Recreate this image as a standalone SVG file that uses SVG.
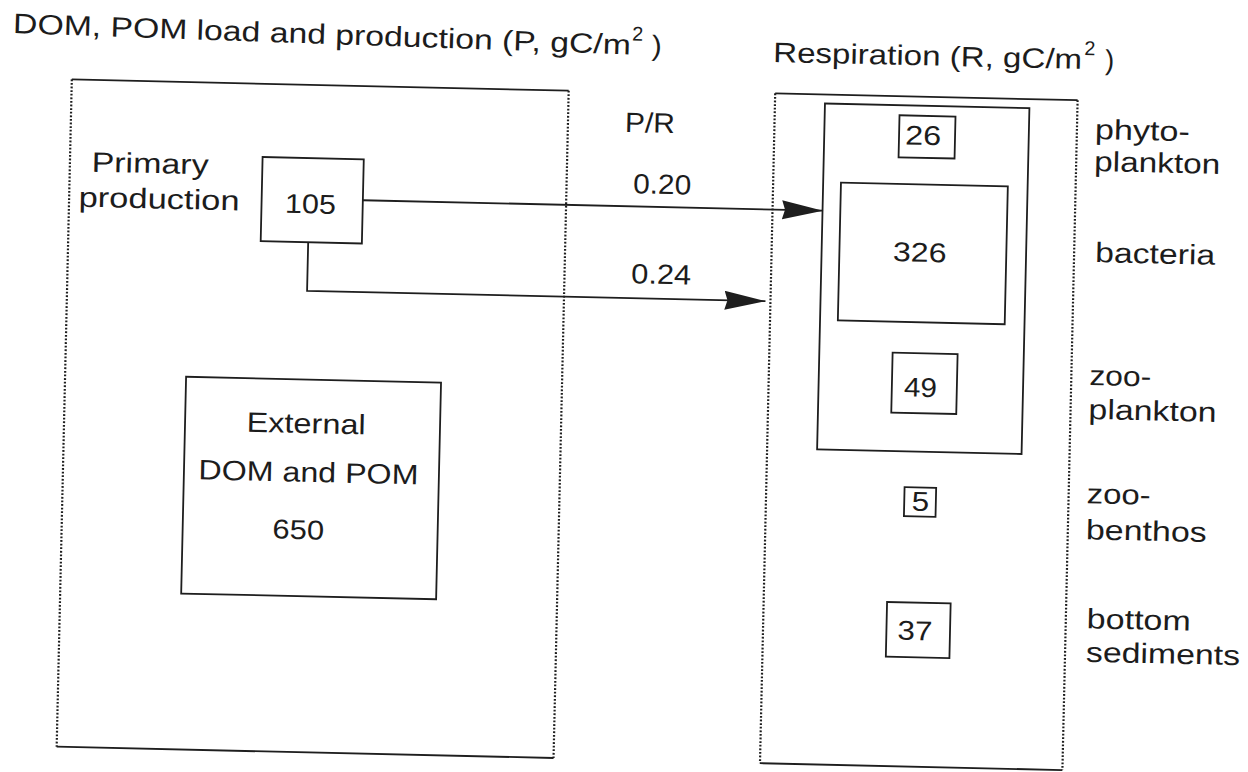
<svg xmlns="http://www.w3.org/2000/svg" width="1248" height="772" viewBox="0 0 1248 772">
<defs>
<style>
.t{font-family:"Liberation Sans",Arial,Helvetica,sans-serif;font-size:28px;fill:#1c1c1c}
.n{font-family:"Liberation Sans",Arial,Helvetica,sans-serif;font-size:27px;fill:#1c1c1c}
.sup{font-family:"Liberation Sans",Arial,Helvetica,sans-serif;font-size:20px;fill:#1c1c1c}
.box{fill:none;stroke:#1e1e1e;stroke-width:1.8}
.solid{stroke:#1e1e1e;stroke-width:1.8;fill:none}
.dot{stroke:#1e1e1e;stroke-width:2.2;stroke-dasharray:1.8 1.8;fill:none}
.conn{stroke:#1e1e1e;stroke-width:1.8;fill:none}
</style>
<marker id="arr" markerUnits="userSpaceOnUse" markerWidth="44" markerHeight="22" refX="41" refY="9.5" orient="auto">
<path d="M0,0 L41,9.5 L0,19 L3,9.5 Z" fill="#1e1e1e"/>
</marker>
</defs>
<rect width="1248" height="772" fill="#ffffff"/>
<g transform="rotate(1.3 624 386)">
  <g id="title-left" transform="rotate(0.68 5 47)">
    <text class="t" x="5" y="47" textLength="618" lengthAdjust="spacingAndGlyphs">DOM, POM load and production (P, gC/m</text>
    <text class="sup" x="624" y="33" textLength="11" lengthAdjust="spacingAndGlyphs">2</text>
    <text class="t" x="644" y="47" textLength="10" lengthAdjust="spacingAndGlyphs">)</text>
  </g>
  <g id="title-right">
    <text class="t" x="765.6" y="58.6" textLength="309" lengthAdjust="spacingAndGlyphs">Respiration (R, gC/m</text>
    <text class="sup" x="1076.6" y="44.6" textLength="11" lengthAdjust="spacingAndGlyphs">2</text>
    <text class="t" x="1097.6" y="58.6" textLength="9" lengthAdjust="spacingAndGlyphs">)</text>
  </g>

  <g id="panel-load">
    <line class="solid" x1="65" y1="92" x2="562" y2="92"/>
    <line class="solid" x1="65" y1="759.5" x2="562" y2="759.5"/>
    <line class="dot" x1="65" y1="92" x2="65" y2="759.5"/>
    <line class="dot" x1="562" y1="92" x2="562" y2="759.5"/>
  </g>

  <g id="primary-production">
    <text class="t" x="86.7" y="183.8" textLength="117" lengthAdjust="spacingAndGlyphs">Primary</text>
    <text class="t" x="74.5" y="219.1" textLength="161" lengthAdjust="spacingAndGlyphs">production</text>
    <rect class="box" x="257.5" y="165.3" width="101.2" height="84.2"/>
    <text class="n" x="281" y="220.4" textLength="51" lengthAdjust="spacingAndGlyphs">105</text>
  </g>

  <g id="external">
    <rect class="box" x="186" y="386.7" width="255" height="216.8"/>
    <text class="t" x="247.6" y="440.3" textLength="119" lengthAdjust="spacingAndGlyphs">External</text>
    <text class="t" x="200.5" y="489" textLength="220" lengthAdjust="spacingAndGlyphs">DOM and POM</text>
    <text class="n" x="275.9" y="546.3" textLength="51.6" lengthAdjust="spacingAndGlyphs">650</text>
  </g>

  <g id="pr-ratios">
    <text class="t" x="619" y="132" textLength="50" lengthAdjust="spacingAndGlyphs">P/R</text>
    <text class="t" x="628.6" y="193.1" textLength="58" lengthAdjust="spacingAndGlyphs">0.20</text>
    <text class="t" x="628.7" y="283.1" textLength="60" lengthAdjust="spacingAndGlyphs">0.24</text>
  </g>

  <g id="panel-respiration">
    <line class="solid" x1="768.5" y1="90" x2="1071" y2="90"/>
    <line class="solid" x1="768.5" y1="760" x2="1071" y2="760"/>
    <line class="dot" x1="768.5" y1="90" x2="768.5" y2="760"/>
    <line class="dot" x1="1071" y1="90" x2="1071" y2="760"/>
  </g>

  <g id="water-column">
    <rect class="box" x="818.5" y="99" width="204.5" height="346"/>
  </g>

  <g id="phytoplankton">
    <rect class="box" x="893.3" y="109.1" width="56" height="42"/>
    <text class="n" x="899.5" y="138.1" textLength="36" lengthAdjust="spacingAndGlyphs">26</text>
    <text class="t" x="1089" y="128.4" textLength="95" lengthAdjust="spacingAndGlyphs">phyto-</text>
    <text class="t" x="1089" y="160.4" textLength="126" lengthAdjust="spacingAndGlyphs">plankton</text>
  </g>

  <g id="bacteria">
    <rect class="box" x="836.3" y="177.8" width="166.9" height="137.8"/>
    <text class="n" x="889.8" y="255" textLength="53.7" lengthAdjust="spacingAndGlyphs">326</text>
    <text class="t" x="1092" y="251.4" textLength="120" lengthAdjust="spacingAndGlyphs">bacteria</text>
  </g>

  <g id="zooplankton">
    <rect class="box" x="891.8" y="346.6" width="65" height="59.9"/>
    <text class="n" x="903.9" y="390" textLength="33" lengthAdjust="spacingAndGlyphs">49</text>
    <text class="t" x="1089" y="374.4" textLength="62" lengthAdjust="spacingAndGlyphs">zoo-</text>
    <text class="t" x="1089" y="408.4" textLength="128" lengthAdjust="spacingAndGlyphs">plankton</text>
  </g>

  <g id="zoobenthos">
    <rect class="box" x="906.8" y="480.8" width="31.6" height="29"/>
    <text class="n" x="914.3" y="504" textLength="17.5" lengthAdjust="spacingAndGlyphs">5</text>
    <text class="t" x="1089" y="492.7" textLength="64" lengthAdjust="spacingAndGlyphs">zoo-</text>
    <text class="t" x="1089" y="528.7" textLength="121" lengthAdjust="spacingAndGlyphs">benthos</text>
  </g>

  <g id="bottom-sediments">
    <rect class="box" x="891.9" y="596" width="63.6" height="54.6"/>
    <text class="n" x="903" y="633.3" textLength="35" lengthAdjust="spacingAndGlyphs">37</text>
    <text class="t" x="1092" y="617.7" textLength="104" lengthAdjust="spacingAndGlyphs">bottom</text>
    <text class="t" x="1092" y="651.1" textLength="154" lengthAdjust="spacingAndGlyphs">sediments</text>
  </g>

  <g id="connectors">
    <line class="conn" x1="358.7" y1="206.2" x2="819" y2="206.2" marker-end="url(#arr)"/>
    <path class="conn" d="M305,249.5 V298 H763.5" marker-end="url(#arr)"/>
  </g>
</g>
</svg>
